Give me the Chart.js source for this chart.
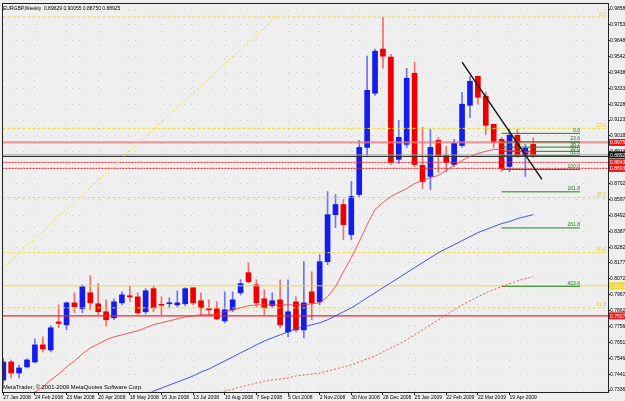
<!DOCTYPE html>
<html><head><meta charset="utf-8">
<script src="https://cdn.jsdelivr.net/npm/chart.js@4.4.1/dist/chart.umd.min.js"></script>
<style>html,body{margin:0;padding:0;background:#efefef;overflow:hidden}#wrap{width:625px;height:401px}</style>
</head><body><div id="wrap"><canvas id="c" width="625" height="401"></canvas></div>
<script>
const dateLabels = ['27 Jan 2008','24 Feb 2008','23 Mar 2008','20 Apr 2008','18 May 2008','15 Jun 2008','13 Jul 2008','10 Aug 2008','7 Sep 2008','5 Oct 2008','2 Nov 2008','30 Nov 2008','28 Dec 2008','25 Jan 2009','22 Feb 2009','22 Mar 2009','19 Apr 2009'];
const dateTickIdx = [0,4,8,12,16,20,24,28,32,36,40,44,48,52,56,60,64];
const priceTicks = [0.98580,0.97530,0.96480,0.95420,0.94380,0.93330,0.92280,0.91230,0.90180,0.89130,0.88070,0.87020,0.85970,0.84920,0.83870,0.82820,0.81770,0.80720,0.79670,0.78620,0.77560,0.76510,0.75460,0.74410,0.73360];
const priceTickLabels = ['0.98580','0.97530','0.96480','0.95420','0.94380','0.93330','0.92280','0.91230','0.90180','0.89130','0.88070','0.87020','0.85970','0.84920','0.83870','0.82820','0.81770','0.80720','0.79670','0.78620','0.77560','0.76510','0.75460','0.74410','0.73360'];

const opens = [0.7402,0.7522,0.7449,0.7489,0.7522,0.7635,0.7601,0.7787,0.7768,0.7913,0.7874,0.7980,0.7907,0.7854,0.7814,0.7913,0.7960,0.7953,0.7854,0.8007,0.7903,0.7907,0.7900,0.7907,0.8013,0.7927,0.7874,0.7874,0.7794,0.7867,0.7980,0.8113,0.8033,0.7940,0.7894,0.7933,0.7721,0.7920,0.7734,0.7986,0.7920,0.8186,0.8497,0.8564,0.8365,0.8630,0.8942,0.9301,0.9593,0.9540,0.8863,0.8962,0.9433,0.8823,0.8750,0.8989,0.8889,0.8829,0.8955,0.9221,0.9413,0.9281,0.9095,0.8995,0.8816,0.9022,0.8889,0.89629];
const highs = [0.7548,0.7535,0.7502,0.7542,0.7675,0.7688,0.7761,0.7900,0.7920,0.7980,0.8033,0.8093,0.8040,0.7933,0.7940,0.7986,0.8026,0.7980,0.8007,0.8026,0.7953,0.7947,0.7993,0.8013,0.8013,0.7980,0.7933,0.7920,0.7986,0.7986,0.8066,0.8179,0.8066,0.8000,0.7980,0.8066,0.8066,0.7953,0.8186,0.8119,0.8232,0.8650,0.8630,0.8597,0.8716,0.8989,0.9546,0.9593,0.9805,0.9559,0.9121,0.9466,0.9506,0.9075,0.9062,0.9009,0.8949,0.8995,0.9307,0.9413,0.9413,0.9307,0.9095,0.9009,0.9062,0.9062,0.8962,0.90055];
const lows = [0.7376,0.7416,0.7416,0.7482,0.7515,0.7588,0.7588,0.7748,0.7734,0.7847,0.7847,0.7867,0.7834,0.7761,0.7801,0.7900,0.7920,0.7834,0.7840,0.7854,0.7834,0.7880,0.7887,0.7894,0.7900,0.7834,0.7834,0.7801,0.7781,0.7854,0.7966,0.8046,0.7887,0.7834,0.7880,0.7748,0.7688,0.7721,0.7681,0.7801,0.7900,0.8166,0.8411,0.8332,0.8332,0.8617,0.8882,0.9287,0.9466,0.8829,0.8836,0.8942,0.8816,0.8670,0.8663,0.8776,0.8783,0.8816,0.8942,0.9141,0.9228,0.9028,0.8942,0.8783,0.8783,0.8876,0.8750,0.88750];
const closes = [0.7522,0.7449,0.7482,0.7535,0.7635,0.7608,0.7748,0.7777,0.7913,0.7887,0.8020,0.7913,0.7854,0.7801,0.7920,0.7966,0.7953,0.7847,0.7993,0.7880,0.7897,0.7913,0.7913,0.8007,0.7913,0.7880,0.7867,0.7807,0.7867,0.7933,0.8040,0.8053,0.7913,0.7880,0.7927,0.7768,0.7854,0.7734,0.7913,0.7913,0.8186,0.8497,0.8564,0.8431,0.8617,0.8942,0.9320,0.9579,0.9546,0.8843,0.9009,0.9400,0.8829,0.8716,0.8942,0.8882,0.8843,0.8969,0.9228,0.9380,0.9274,0.9088,0.8975,0.8803,0.9022,0.8882,0.8936,0.88925];

const maRed = [null,null,null,0.7290,0.7323,0.7356,0.7402,0.7442,0.7489,0.7528,0.7575,0.7615,0.7641,0.7668,0.7688,0.7701,0.7715,0.7728,0.7748,0.7768,0.7781,0.7794,0.7807,0.7820,0.7827,0.7834,0.7834,0.7840,0.7854,0.7867,0.7880,0.7894,0.7900,0.7900,0.7900,0.7900,0.7900,0.7900,0.7900,0.7907,0.7913,0.7953,0.8020,0.8119,0.8212,0.8318,0.8431,0.8531,0.8577,0.8617,0.8644,0.8670,0.8703,0.8723,0.8743,0.8756,0.8790,0.8823,0.8856,0.8882,0.8902,0.8916,0.8929,0.8929,0.8922,0.8916,0.8909,0.8902];
const maBlue = [null,null,null,null,null,null,null,null,null,null,null,null,null,null,null,null,null,null,0.7300,0.7329,0.7349,0.7369,0.7389,0.7409,0.7429,0.7455,0.7475,0.7502,0.7528,0.7555,0.7582,0.7608,0.7635,0.7661,0.7681,0.7701,0.7721,0.7741,0.7754,0.7768,0.7781,0.7801,0.7827,0.7854,0.7880,0.7913,0.7947,0.7980,0.8013,0.8046,0.8079,0.8113,0.8146,0.8179,0.8212,0.8245,0.8272,0.8298,0.8325,0.8351,0.8378,0.8398,0.8418,0.8438,0.8451,0.8471,0.8484,0.8497];
const maRedDot = [null,null,null,null,null,null,null,null,null,null,null,null,null,null,null,null,null,null,null,null,null,null,null,null,null,null,null,0.7310,0.7329,0.7342,0.7356,0.7369,0.7382,0.7395,0.7402,0.7409,0.7416,0.7429,0.7435,0.7442,0.7449,0.7462,0.7475,0.7489,0.7502,0.7522,0.7542,0.7562,0.7588,0.7615,0.7641,0.7668,0.7701,0.7734,0.7768,0.7801,0.7834,0.7867,0.7900,0.7927,0.7953,0.7980,0.8000,0.8020,0.8040,0.8059,0.8073,0.8086];

const yellowFibLevels = ['0.0','23.6','38.2','50.0','61.8'];
const yellowFibPrices = [0.9805,0.9068,0.8610,0.8245,0.7880];
const greenFibLevels = ['0.0','23.6','38.2','50.0','61.8','100.0','161.8','261.8','423.6'];
const greenFibPrices = [0.9035,0.8979,0.8944,0.8916,0.8887,0.8796,0.8648,0.8409,0.8023];
const greenFibSpan = [63.0, 72.9];
const hLinePrices = [0.8975, 0.8892, 0.8882, 0.8843, 0.8803, 0.8026, 0.7827];
const axisTagPrices = [0.8975, 0.88925, 0.8843, 0.8803, 0.8026, 0.7827];
const axisTagTexts = ['0.89750','0.88925','0.88430','0.88030','0.80240','0.78270'];
const blackTrendIdx = [58.0, 68.1];
const blackTrendPrice = [0.9506, 0.8730];
const yellowTrendIdx = [-0.5, 34.6];
const yellowTrendPrice = [0.8123, 0.9812];
const headerText = 'EURGBP,Weekly  0.89629 0.90055 0.88750 0.88925';
const footerText = 'MetaTrader, \u00a9 2001-2009 MetaQuotes Software Corp.';

const BLUE = 'rgb(20,28,235)', RED = 'rgb(238,0,0)';
const FONT = 'Liberation Sans';
const bull = opens.map((o,i)=>closes[i] >= o);

const hLineStyles = [
  {c:'rgba(235,120,120,0.75)', w:2.2, d:[]},
  {c:'#9a9a9a', w:1, d:[]},
  {c:'#303030', w:1, d:[]},
  {c:'rgb(235,40,40)', w:1, d:[2,1]},
  {c:'rgb(235,40,40)', w:1, d:[2,1]},
  {c:'rgb(240,220,40)', w:1, d:[]},
  {c:'rgb(235,40,40)', w:1.2, d:[]}
];
const tagColors = ['rgb(240,20,20)','#111','rgb(240,20,20)','rgb(240,20,20)','rgb(240,215,40)','rgb(240,20,20)'];

const datasets = [];
datasets.push({type:'bar', data: opens.map((o,i)=>({x:i, y:[o, closes[i]]})), backgroundColor: bull.map(b=>b?BLUE:RED), barThickness:5, grouped:false, minBarLength:1, borderWidth:0, order:10});
datasets.push({type:'bar', data: highs.map((h,i)=>({x:i, y:[lows[i], h]})), backgroundColor: bull.map(b=>b?'rgba(40,50,240,0.65)':'rgba(240,40,40,0.65)'), barThickness:1, grouped:false, borderWidth:0, order:11});
const lineDs = (data, color, width, dash, order) => ({type:'line', data, borderColor:color, borderWidth:width, borderDash:dash, pointRadius:0, tension:0, fill:false, spanGaps:false, order});
datasets.push(lineDs(maRed.map((v,i)=>({x:i,y:v})), 'rgba(240,60,60,0.85)', 1, [], 3));
datasets.push(lineDs(maBlue.map((v,i)=>({x:i,y:v})), 'rgba(40,50,240,0.85)', 1, [], 3));
datasets.push(lineDs(maRedDot.map((v,i)=>({x:i,y:v})), 'rgba(240,60,60,0.85)', 1, [2,2], 3));
yellowFibPrices.forEach(p=>datasets.push(lineDs([{x:-2,y:p},{x:80,y:p}], 'rgb(240,220,40)', 1, [3,2], 5)));
greenFibPrices.forEach(p=>datasets.push(lineDs([{x:greenFibSpan[0],y:p},{x:greenFibSpan[1],y:p}], 'rgb(30,130,30)', 1, [], 4)));
hLinePrices.forEach((p,k)=>datasets.push(lineDs([{x:-2,y:p},{x:80,y:p}], hLineStyles[k].c, hLineStyles[k].w, hLineStyles[k].d, 4)));
datasets.push(lineDs(blackTrendIdx.map((x,k)=>({x, y:blackTrendPrice[k]})), '#111', 1.4, [], 1));
datasets.push(lineDs(yellowTrendIdx.map((x,k)=>({x, y:yellowTrendPrice[k]})), 'rgb(240,220,40)', 1, [2,2], 1));

const deco = {
  id:'deco',
  beforeDraw(chart){
    const {ctx} = chart; ctx.save(); ctx.fillStyle='#efefef'; ctx.fillRect(0,0,chart.width,chart.height); ctx.restore();
  },
  afterDraw(chart){
    const {ctx, chartArea:a, scales:{x,y}} = chart;
    ctx.save();
    ctx.strokeStyle='#222'; ctx.lineWidth=1;
    ctx.strokeRect(Math.round(a.left)+0.5, Math.round(a.top)+0.5, Math.round(a.right-a.left), Math.round(a.bottom-a.top));
    ctx.font = '5px "'+FONT+'"'; ctx.textBaseline='alphabetic';
    ctx.fillStyle='#000'; ctx.textAlign='left';
    ctx.fillText(headerText, 3, 10);
    ctx.font = '5.8px "'+FONT+'"';
    ctx.fillText(footerText, 3, 389);
    ctx.font = '5px "'+FONT+'"';
    ctx.textAlign='right';
    ctx.fillStyle='rgb(225,205,30)';
    yellowFibPrices.forEach((p,k)=>ctx.fillText(yellowFibLevels[k], a.right-2, y.getPixelForValue(p)-1.5));
    ctx.fillStyle='rgb(30,120,30)';
    greenFibPrices.forEach((p,k)=>ctx.fillText(greenFibLevels[k], x.getPixelForValue(greenFibSpan[1]), y.getPixelForValue(p)-1.5));
    ctx.textAlign='left'; ctx.textBaseline='middle';
    axisTagPrices.forEach((p,k)=>{
      const py = y.getPixelForValue(p);
      ctx.fillStyle = tagColors[k]; ctx.fillRect(a.right+1, py-3.5, 20, 7);
      ctx.fillStyle = k===4 ? '#f8f0c0' : '#fff';
      ctx.fillText(axisTagTexts[k], a.right+2, py+0.5);
    });
    ctx.restore();
  }
};

new Chart(document.getElementById('c'), {
  type:'bar',
  data:{datasets},
  options:{
    responsive:false, animation:false, devicePixelRatio:1,
    layout:{padding:{left:2, top:3, right:0, bottom:0}},
    plugins:{legend:{display:false}, tooltip:{enabled:false}},
    scales:{
      x:{type:'linear', position:'bottom', min:-0.16, max:76.45, offset:false,
        afterBuildTicks:s=>{s.ticks = dateTickIdx.map(v=>({value:v}));},
        afterFit:s=>{s.height = 9;},
        ticks:{autoSkip:false, maxRotation:0, minRotation:0, align:'start', padding:0, color:'#000', font:{size:5, family:FONT}, callback:(v,i)=>dateLabels[i]},
        grid:{offset:false, color:'rgba(150,150,150,0.35)', tickLength:3, tickColor:'#222', borderDash:[1,6]},
        border:{display:false, dash:[1,6]}
      },
      y:{type:'linear', position:'right', min:0.7323, max:0.9898,
        afterBuildTicks:s=>{s.ticks = priceTicks.map(v=>({value:v}));},
        afterFit:s=>{s.width = 17;},
        ticks:{autoSkip:false, padding:0, color:'#000', font:{size:5, family:FONT}, callback:(v,i)=>priceTickLabels[i]},
        grid:{color:'rgba(150,150,150,0.35)', tickLength:2, tickColor:'#222', borderDash:[1,6]},
        border:{display:false, dash:[1,6]}
      }
    }
  },
  plugins:[deco]
});
</script>
</body></html>
